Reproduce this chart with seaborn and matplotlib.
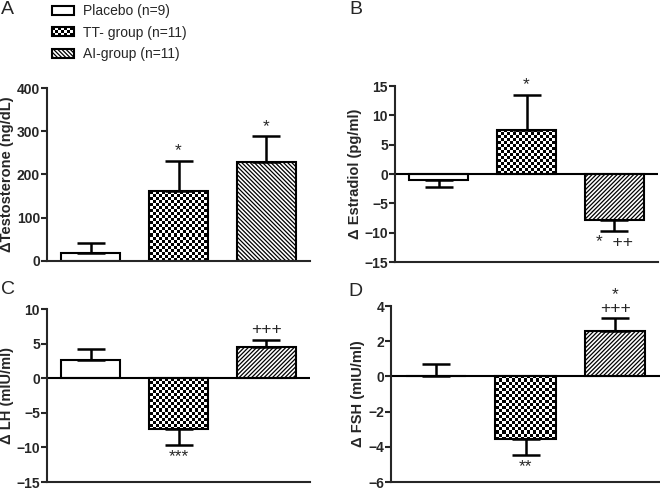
import numpy as np
import pandas as pd
import matplotlib
matplotlib.use('Agg')
import matplotlib.pyplot as plt
import seaborn as sns
from matplotlib.patches import Patch, Rectangle
from matplotlib.legend_handler import HandlerBase

groups = ['Placebo (n=9)', 'TT- group (n=11)', 'AI-group (n=11)']

testosterone = [18, 163, 230]
testosterone_sem = [24, 69, 58]
estradiol = [-1.0, 7.5, -7.8]
estradiol_sem = [1.2, 6.0, 1.9]
lh = [2.7, -7.4, 4.5]
lh_sem = [1.5, 2.3, 1.0]
fsh = [0.05, -3.55, 2.6]
fsh_sem = [0.65, 0.9, 0.7]

# significance marks, written next to the end of the error bar
testosterone_marks = ['', '*', '*']
estradiol_marks = ['', '*', '*  ++']
lh_marks = ['', '***', '+++']
fsh_marks = ['', '**', '*\n+++']

sns.set_theme(style='ticks')
plt.rcParams['font.family'] = ['Liberation Sans', 'DejaVu Sans']
plt.rcParams['hatch.linewidth'] = 0.9

W, H, DPI = 6.6, 4.9, 100
fig = plt.figure(figsize=(W, H), dpi=DPI)


# checkerboard patch for the legend
class CheckerHandler(HandlerBase):
    def create_artists(self, legend, orig_handle, xdescent, ydescent,
                       width, height, fontsize, trans):
        arts = []
        nx, ny = 7, 3
        cw, ch = width / nx, height / ny
        for i in range(nx):
            for j in range(ny):
                if (i + j) % 2 == 0:
                    arts.append(Rectangle((-xdescent + i * cw, -ydescent + j * ch), cw, ch,
                                          facecolor='black', edgecolor='none', transform=trans))
        arts.append(Rectangle((-xdescent, -ydescent), width, height, facecolor='none',
                              edgecolor='black', lw=1.5, transform=trans))
        return arts


def checker(ax, bar):
    pos = ax.get_position()
    nx = int(pos.width * W * DPI / 3)
    ny = int(pos.height * H * DPI / 3)
    board = np.indices((ny, nx)).sum(axis=0) % 2
    im = ax.imshow(board, cmap='gray', extent=(0, 1, 0, 1), transform=ax.transAxes,
                   aspect='auto', interpolation='nearest', zorder=1.5)
    im.set_clip_path(bar)


def panel(rect, values, sems, marks, ylabel, yticks, hatch):
    ax = fig.add_axes(rect)
    df = pd.DataFrame({'group': groups, 'value': values})
    sns.barplot(data=df, x='group', y='value', ax=ax, width=0.67, color='white',
                edgecolor='black', linewidth=1.5, saturation=1, zorder=2)
    bars = ax.patches
    bars[1].set_facecolor('none')
    checker(ax, bars[1])
    bars[2].set_hatch(hatch)

    x = np.arange(len(values))
    v = np.array(values)
    s = np.array(sems)
    lower = np.where(v < 0, s, 0)
    upper = np.where(v >= 0, s, 0)
    ax.errorbar(x, v, yerr=[lower, upper], fmt='none', ecolor='black',
                elinewidth=1.8, capsize=10, capthick=1.8, zorder=3)

    for xi, vi, si, m in zip(x, v, s, marks):
        if not m:
            continue
        if vi >= 0:
            ax.annotate(m, (xi, vi + si), xytext=(0, 2), textcoords='offset points',
                        ha='center', va='bottom', fontsize=12.5, linespacing=0.85)
        else:
            ax.annotate(m, (xi, vi - si), xytext=(0, -3), textcoords='offset points',
                        ha='center', va='top', fontsize=12.5)

    ax.set_xlim(-0.5, 2.5)
    ax.set_ylim(yticks[0], yticks[-1])
    ax.set_yticks(yticks)
    if yticks[0] < 0:
        ax.axhline(0, color='black', lw=1.5, zorder=2.5)
    sns.despine(ax=ax)
    for sp in ax.spines.values():
        sp.set_linewidth(1.5)
    ax.tick_params(axis='x', bottom=False, labelbottom=False)
    ax.tick_params(axis='y', direction='out', length=4, width=1.5, labelsize=10, pad=1)
    for lbl in ax.get_yticklabels():
        lbl.set_fontweight('bold')
    ax.set_xlabel('')
    ax.set_ylabel(ylabel, fontsize=10.5, fontweight='bold', labelpad=2)
    return ax


panel([47 / 660, 1 - 261 / 490, 263 / 660, 173 / 490], testosterone, testosterone_sem,
      testosterone_marks, '\u0394Testosterone (ng/dL)', [0, 100, 200, 300, 400], '\\\\\\\\\\\\\\\\')
panel([395 / 660, 1 - 262 / 490, 263 / 660, 176 / 490], estradiol, estradiol_sem,
      estradiol_marks, '\u0394 Estradiol (pg/ml)', [-15, -10, -5, 0, 5, 10, 15], '////////')
panel([47 / 660, 1 - 482 / 490, 263 / 660, 173 / 490], lh, lh_sem,
      lh_marks, '\u0394 LH (mIU/ml)', [-15, -10, -5, 0, 5, 10], '////////')
panel([391 / 660, 1 - 482 / 490, 269 / 660, 176 / 490], fsh, fsh_sem,
      fsh_marks, '\u0394 FSH (mIU/ml)', [-6, -4, -2, 0, 2, 4], '////////')

# panel letters
for lx, ly, letter in [(1, 10, 'A'), (349, 9, 'B'), (1, 289, 'C'), (348, 291, 'D')]:
    fig.text(lx / 660, 1 - ly / 490, letter, fontsize=14, ha='left', va='center')

# legend
checker_handle = Patch(facecolor='white', edgecolor='black')
handles = [Patch(facecolor='white', edgecolor='black', lw=1.5),
           checker_handle,
           Patch(facecolor='white', edgecolor='black', lw=1.5, hatch='\\\\\\\\\\\\\\\\')]
fig.legend(handles, groups, handler_map={checker_handle: CheckerHandler()},
           loc='upper left', bbox_to_anchor=(52 / 660, 1 - 4 / 490), frameon=False,
           fontsize=10, handlelength=1.55, handleheight=0.6, handletextpad=0.7,
           labelspacing=0.55, borderpad=0, borderaxespad=0)

fig.savefig('out.png', dpi=DPI)
